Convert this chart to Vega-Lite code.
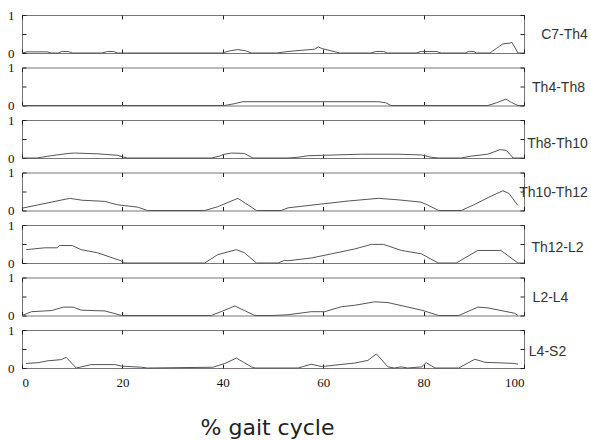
{
  "$schema": "https://vega.github.io/schema/vega-lite/v6.json",
  "background": "white",
  "padding": {"left": 7, "top": 8, "right": 0, "bottom": 0},
  "spacing": 14.5,
  "bounds": "flush",
  "datasets": {
    "d": [
      {"p":"C7-Th4","x":0,"y":0},{"p":"C7-Th4","x":1,"y":0.03},{"p":"C7-Th4","x":5,"y":0.03},{"p":"C7-Th4","x":5.8,"y":0},{"p":"C7-Th4","x":7.2,"y":0},{"p":"C7-Th4","x":8,"y":0.04},{"p":"C7-Th4","x":9.2,"y":0.04},{"p":"C7-Th4","x":10,"y":0},{"p":"C7-Th4","x":16,"y":0},{"p":"C7-Th4","x":17,"y":0.04},{"p":"C7-Th4","x":18.2,"y":0.04},{"p":"C7-Th4","x":19,"y":0},{"p":"C7-Th4","x":39.8,"y":0},{"p":"C7-Th4","x":41.5,"y":0.06},{"p":"C7-Th4","x":43,"y":0.09},{"p":"C7-Th4","x":44.5,"y":0.06},{"p":"C7-Th4","x":45.7,"y":0},{"p":"C7-Th4","x":50.7,"y":0},{"p":"C7-Th4","x":53,"y":0.04},{"p":"C7-Th4","x":55.6,"y":0.07},{"p":"C7-Th4","x":58.3,"y":0.1},{"p":"C7-Th4","x":59,"y":0.16},{"p":"C7-Th4","x":59.7,"y":0.12},{"p":"C7-Th4","x":63.3,"y":0},{"p":"C7-Th4","x":69.5,"y":0},{"p":"C7-Th4","x":70.5,"y":0.04},{"p":"C7-Th4","x":72,"y":0.04},{"p":"C7-Th4","x":72.8,"y":0},{"p":"C7-Th4","x":78.5,"y":0},{"p":"C7-Th4","x":79.5,"y":0.04},{"p":"C7-Th4","x":82.5,"y":0.04},{"p":"C7-Th4","x":83.5,"y":0},{"p":"C7-Th4","x":88.3,"y":0},{"p":"C7-Th4","x":89,"y":0.04},{"p":"C7-Th4","x":90,"y":0.04},{"p":"C7-Th4","x":90.5,"y":0},{"p":"C7-Th4","x":93.2,"y":0},{"p":"C7-Th4","x":94.5,"y":0.12},{"p":"C7-Th4","x":95.8,"y":0.24},{"p":"C7-Th4","x":97.2,"y":0.26},{"p":"C7-Th4","x":97.6,"y":0.28},{"p":"C7-Th4","x":98.8,"y":0},{"p":"C7-Th4","x":100,"y":0},

      {"p":"Th4-Th8","x":0,"y":0},{"p":"Th4-Th8","x":40.4,"y":0},{"p":"Th4-Th8","x":42.4,"y":0.05},{"p":"Th4-Th8","x":44,"y":0.1},{"p":"Th4-Th8","x":71,"y":0.1},{"p":"Th4-Th8","x":72.5,"y":0.07},{"p":"Th4-Th8","x":73.5,"y":0},{"p":"Th4-Th8","x":92.8,"y":0},{"p":"Th4-Th8","x":94.5,"y":0.07},{"p":"Th4-Th8","x":96.4,"y":0.17},{"p":"Th4-Th8","x":97.5,"y":0.08},{"p":"Th4-Th8","x":98.8,"y":0},{"p":"Th4-Th8","x":100,"y":0},

      {"p":"Th8-Th10","x":0,"y":0},{"p":"Th8-Th10","x":3,"y":0},{"p":"Th8-Th10","x":3.9,"y":0.02},{"p":"Th8-Th10","x":5.8,"y":0.06},{"p":"Th8-Th10","x":9.2,"y":0.12},{"p":"Th8-Th10","x":10.5,"y":0.13},{"p":"Th8-Th10","x":15,"y":0.11},{"p":"Th8-Th10","x":19.1,"y":0.07},{"p":"Th8-Th10","x":20,"y":0.03},{"p":"Th8-Th10","x":21,"y":0},{"p":"Th8-Th10","x":37.7,"y":0},{"p":"Th8-Th10","x":39.4,"y":0.05},{"p":"Th8-Th10","x":40,"y":0.09},{"p":"Th8-Th10","x":41.7,"y":0.13},{"p":"Th8-Th10","x":44.3,"y":0.12},{"p":"Th8-Th10","x":46,"y":0},{"p":"Th8-Th10","x":53,"y":0},{"p":"Th8-Th10","x":55,"y":0.02},{"p":"Th8-Th10","x":57,"y":0.06},{"p":"Th8-Th10","x":59.7,"y":0.07},{"p":"Th8-Th10","x":67.6,"y":0.1},{"p":"Th8-Th10","x":74.9,"y":0.1},{"p":"Th8-Th10","x":79.6,"y":0.08},{"p":"Th8-Th10","x":81.5,"y":0.02},{"p":"Th8-Th10","x":83,"y":0},{"p":"Th8-Th10","x":87.5,"y":0},{"p":"Th8-Th10","x":89.5,"y":0.05},{"p":"Th8-Th10","x":92.8,"y":0.1},{"p":"Th8-Th10","x":95.2,"y":0.22},{"p":"Th8-Th10","x":96.5,"y":0.2},{"p":"Th8-Th10","x":97.5,"y":0.05},{"p":"Th8-Th10","x":97.8,"y":0},{"p":"Th8-Th10","x":100,"y":0},

      {"p":"Th10-Th12","x":0,"y":0.06},{"p":"Th10-Th12","x":9.5,"y":0.32},{"p":"Th10-Th12","x":12,"y":0.27},{"p":"Th10-Th12","x":16.5,"y":0.24},{"p":"Th10-Th12","x":19,"y":0.15},{"p":"Th10-Th12","x":23,"y":0.09},{"p":"Th10-Th12","x":25,"y":0},{"p":"Th10-Th12","x":36.4,"y":0},{"p":"Th10-Th12","x":39,"y":0.1},{"p":"Th10-Th12","x":43,"y":0.32},{"p":"Th10-Th12","x":45,"y":0.15},{"p":"Th10-Th12","x":46.7,"y":0},{"p":"Th10-Th12","x":51.6,"y":0},{"p":"Th10-Th12","x":53,"y":0.07},{"p":"Th10-Th12","x":59.6,"y":0.17},{"p":"Th10-Th12","x":65,"y":0.25},{"p":"Th10-Th12","x":71,"y":0.32},{"p":"Th10-Th12","x":75,"y":0.28},{"p":"Th10-Th12","x":79.5,"y":0.22},{"p":"Th10-Th12","x":81.5,"y":0.1},{"p":"Th10-Th12","x":83,"y":0},{"p":"Th10-Th12","x":87.5,"y":0},{"p":"Th10-Th12","x":90,"y":0.15},{"p":"Th10-Th12","x":93,"y":0.35},{"p":"Th10-Th12","x":95.8,"y":0.52},{"p":"Th10-Th12","x":97,"y":0.45},{"p":"Th10-Th12","x":98.8,"y":0.13},

      {"p":"Th12-L2","x":0.8,"y":0.35},{"p":"Th12-L2","x":4.5,"y":0.4},{"p":"Th12-L2","x":7,"y":0.4},{"p":"Th12-L2","x":7.5,"y":0.46},{"p":"Th12-L2","x":10,"y":0.46},{"p":"Th12-L2","x":11.8,"y":0.35},{"p":"Th12-L2","x":15,"y":0.27},{"p":"Th12-L2","x":19.7,"y":0.06},{"p":"Th12-L2","x":20.5,"y":0},{"p":"Th12-L2","x":36.4,"y":0},{"p":"Th12-L2","x":39,"y":0.22},{"p":"Th12-L2","x":42.7,"y":0.35},{"p":"Th12-L2","x":44.3,"y":0.27},{"p":"Th12-L2","x":46.7,"y":0},{"p":"Th12-L2","x":51,"y":0},{"p":"Th12-L2","x":52.3,"y":0.07},{"p":"Th12-L2","x":53,"y":0.06},{"p":"Th12-L2","x":57.6,"y":0.13},{"p":"Th12-L2","x":61.6,"y":0.24},{"p":"Th12-L2","x":66.3,"y":0.37},{"p":"Th12-L2","x":69.6,"y":0.49},{"p":"Th12-L2","x":72,"y":0.49},{"p":"Th12-L2","x":75.6,"y":0.33},{"p":"Th12-L2","x":79.6,"y":0.24},{"p":"Th12-L2","x":82.9,"y":0},{"p":"Th12-L2","x":86.5,"y":0},{"p":"Th12-L2","x":90.8,"y":0.33},{"p":"Th12-L2","x":95.4,"y":0.33},{"p":"Th12-L2","x":98.8,"y":0},{"p":"Th12-L2","x":100,"y":0},

      {"p":"L2-L4","x":0,"y":0},{"p":"L2-L4","x":1.9,"y":0.1},{"p":"L2-L4","x":5.9,"y":0.13},{"p":"L2-L4","x":8.2,"y":0.22},{"p":"L2-L4","x":10.2,"y":0.22},{"p":"L2-L4","x":11.8,"y":0.14},{"p":"L2-L4","x":16.5,"y":0.12},{"p":"L2-L4","x":18.5,"y":0.05},{"p":"L2-L4","x":19.8,"y":0},{"p":"L2-L4","x":37.7,"y":0},{"p":"L2-L4","x":40,"y":0.12},{"p":"L2-L4","x":42.4,"y":0.25},{"p":"L2-L4","x":46.4,"y":0},{"p":"L2-L4","x":50,"y":0},{"p":"L2-L4","x":53,"y":0.02},{"p":"L2-L4","x":57.6,"y":0.1},{"p":"L2-L4","x":60.3,"y":0.1},{"p":"L2-L4","x":63.6,"y":0.23},{"p":"L2-L4","x":66.3,"y":0.27},{"p":"L2-L4","x":70.3,"y":0.36},{"p":"L2-L4","x":72.9,"y":0.34},{"p":"L2-L4","x":79.6,"y":0.14},{"p":"L2-L4","x":82.3,"y":0.03},{"p":"L2-L4","x":83,"y":0},{"p":"L2-L4","x":87,"y":0},{"p":"L2-L4","x":90.8,"y":0.22},{"p":"L2-L4","x":92.8,"y":0.2},{"p":"L2-L4","x":98.1,"y":0.06},{"p":"L2-L4","x":98.8,"y":0},

      {"p":"L4-S2","x":0.8,"y":0.12},{"p":"L4-S2","x":3.2,"y":0.14},{"p":"L4-S2","x":5.2,"y":0.19},{"p":"L4-S2","x":7.8,"y":0.22},{"p":"L4-S2","x":8.8,"y":0.28},{"p":"L4-S2","x":10.8,"y":0},{"p":"L4-S2","x":11.8,"y":0.03},{"p":"L4-S2","x":13.8,"y":0.09},{"p":"L4-S2","x":18.5,"y":0.09},{"p":"L4-S2","x":19.8,"y":0.05},{"p":"L4-S2","x":23.8,"y":0.02},{"p":"L4-S2","x":25,"y":0},{"p":"L4-S2","x":38,"y":0.02},{"p":"L4-S2","x":40.4,"y":0.12},{"p":"L4-S2","x":42.7,"y":0.26},{"p":"L4-S2","x":45.7,"y":0.03},{"p":"L4-S2","x":46.5,"y":0},{"p":"L4-S2","x":55,"y":0},{"p":"L4-S2","x":57.6,"y":0.1},{"p":"L4-S2","x":59.6,"y":0.04},{"p":"L4-S2","x":60.5,"y":0.05},{"p":"L4-S2","x":66.3,"y":0.13},{"p":"L4-S2","x":68.9,"y":0.2},{"p":"L4-S2","x":70.6,"y":0.37},{"p":"L4-S2","x":72.9,"y":0.03},{"p":"L4-S2","x":74.2,"y":0},{"p":"L4-S2","x":75.5,"y":0.03},{"p":"L4-S2","x":76.8,"y":0},{"p":"L4-S2","x":79.6,"y":0.03},{"p":"L4-S2","x":80.5,"y":0.14},{"p":"L4-S2","x":82.3,"y":0},{"p":"L4-S2","x":87,"y":0},{"p":"L4-S2","x":90.2,"y":0.23},{"p":"L4-S2","x":92.2,"y":0.15},{"p":"L4-S2","x":98.1,"y":0.12},{"p":"L4-S2","x":98.8,"y":0.1}
    ]
  },
  "vconcat": [
    {"width":502,"height":38,"data":{"name":"d"},"transform":[{"filter":"datum.p === 'C7-Th4'"}],
     "layer":[
       {"mark":{"type":"line","color":"#555","strokeWidth":1},
        "encoding":{"x":{"field":"x","type":"quantitative","scale":{"domain":[0,100],"nice":false},"axis":{"orient":"bottom","values":[0,20,40,60,80,100],"labels":false,"title":null}},
                    "y":{"field":"y","type":"quantitative","scale":{"domain":[0,1]},"axis":{"orient":"left","values":[0,0.5,1],"labelExpr":"datum.value == 0 ? '0' : datum.value == 1 ? '1' : ''","title":null}}}},
       {"mark":{"type":"line","opacity":0},
        "encoding":{"x":{"field":"x","type":"quantitative","scale":{"domain":[0,100],"nice":false},"axis":{"orient":"top","values":[0,20,40,60,80,100],"labels":false,"title":null}},
                    "y":{"field":"y","type":"quantitative","scale":{"domain":[0,1]},"axis":{"orient":"right","values":[0,0.5,1],"labels":false,"title":"C7-Th4","titleX":40,"titleY":19}}}}
     ],
     "resolve":{"axis":{"x":"independent","y":"independent"}}},
    {"width":502,"height":38,"data":{"name":"d"},"transform":[{"filter":"datum.p === 'Th4-Th8'"}],
     "layer":[
       {"mark":{"type":"line","color":"#555","strokeWidth":1},
        "encoding":{"x":{"field":"x","type":"quantitative","scale":{"domain":[0,100],"nice":false},"axis":{"orient":"bottom","values":[0,20,40,60,80,100],"labels":false,"title":null}},
                    "y":{"field":"y","type":"quantitative","scale":{"domain":[0,1]},"axis":{"orient":"left","values":[0,0.5,1],"labelExpr":"datum.value == 0 ? '0' : datum.value == 1 ? '1' : ''","title":null}}}},
       {"mark":{"type":"line","opacity":0},
        "encoding":{"x":{"field":"x","type":"quantitative","scale":{"domain":[0,100],"nice":false},"axis":{"orient":"top","values":[0,20,40,60,80,100],"labels":false,"title":null}},
                    "y":{"field":"y","type":"quantitative","scale":{"domain":[0,1]},"axis":{"orient":"right","values":[0,0.5,1],"labels":false,"title":"Th4-Th8","titleX":34,"titleY":20}}}}
     ],
     "resolve":{"axis":{"x":"independent","y":"independent"}}},
    {"width":502,"height":38,"data":{"name":"d"},"transform":[{"filter":"datum.p === 'Th8-Th10'"}],
     "layer":[
       {"mark":{"type":"line","color":"#555","strokeWidth":1},
        "encoding":{"x":{"field":"x","type":"quantitative","scale":{"domain":[0,100],"nice":false},"axis":{"orient":"bottom","values":[0,20,40,60,80,100],"labels":false,"title":null}},
                    "y":{"field":"y","type":"quantitative","scale":{"domain":[0,1]},"axis":{"orient":"left","values":[0,0.5,1],"labelExpr":"datum.value == 0 ? '0' : datum.value == 1 ? '1' : ''","title":null}}}},
       {"mark":{"type":"line","opacity":0},
        "encoding":{"x":{"field":"x","type":"quantitative","scale":{"domain":[0,100],"nice":false},"axis":{"orient":"top","values":[0,20,40,60,80,100],"labels":false,"title":null}},
                    "y":{"field":"y","type":"quantitative","scale":{"domain":[0,1]},"axis":{"orient":"right","values":[0,0.5,1],"labels":false,"title":"Th8-Th10","titleX":33,"titleY":23}}}}
     ],
     "resolve":{"axis":{"x":"independent","y":"independent"}}},
    {"width":502,"height":38,"data":{"name":"d"},"transform":[{"filter":"datum.p === 'Th10-Th12'"}],
     "layer":[
       {"mark":{"type":"line","color":"#555","strokeWidth":1},
        "encoding":{"x":{"field":"x","type":"quantitative","scale":{"domain":[0,100],"nice":false},"axis":{"orient":"bottom","values":[0,20,40,60,80,100],"labels":false,"title":null}},
                    "y":{"field":"y","type":"quantitative","scale":{"domain":[0,1]},"axis":{"orient":"left","values":[0,0.5,1],"labelExpr":"datum.value == 0 ? '0' : datum.value == 1 ? '1' : ''","title":null}}}},
       {"mark":{"type":"line","opacity":0},
        "encoding":{"x":{"field":"x","type":"quantitative","scale":{"domain":[0,100],"nice":false},"axis":{"orient":"top","values":[0,20,40,60,80,100],"labels":false,"title":null}},
                    "y":{"field":"y","type":"quantitative","scale":{"domain":[0,1]},"axis":{"orient":"right","values":[0,0.5,1],"labels":false,"title":"Th10-Th12","titleX":29,"titleY":20}}}}
     ],
     "resolve":{"axis":{"x":"independent","y":"independent"}}},
    {"width":502,"height":38,"data":{"name":"d"},"transform":[{"filter":"datum.p === 'Th12-L2'"}],
     "layer":[
       {"mark":{"type":"line","color":"#555","strokeWidth":1},
        "encoding":{"x":{"field":"x","type":"quantitative","scale":{"domain":[0,100],"nice":false},"axis":{"orient":"bottom","values":[0,20,40,60,80,100],"labels":false,"title":null}},
                    "y":{"field":"y","type":"quantitative","scale":{"domain":[0,1]},"axis":{"orient":"left","values":[0,0.5,1],"labelExpr":"datum.value == 0 ? '0' : datum.value == 1 ? '1' : ''","title":null}}}},
       {"mark":{"type":"line","opacity":0},
        "encoding":{"x":{"field":"x","type":"quantitative","scale":{"domain":[0,100],"nice":false},"axis":{"orient":"top","values":[0,20,40,60,80,100],"labels":false,"title":null}},
                    "y":{"field":"y","type":"quantitative","scale":{"domain":[0,1]},"axis":{"orient":"right","values":[0,0.5,1],"labels":false,"title":"Th12-L2","titleX":33,"titleY":22}}}}
     ],
     "resolve":{"axis":{"x":"independent","y":"independent"}}},
    {"width":502,"height":38,"data":{"name":"d"},"transform":[{"filter":"datum.p === 'L2-L4'"}],
     "layer":[
       {"mark":{"type":"line","color":"#555","strokeWidth":1},
        "encoding":{"x":{"field":"x","type":"quantitative","scale":{"domain":[0,100],"nice":false},"axis":{"orient":"bottom","values":[0,20,40,60,80,100],"labels":false,"title":null}},
                    "y":{"field":"y","type":"quantitative","scale":{"domain":[0,1]},"axis":{"orient":"left","values":[0,0.5,1],"labelExpr":"datum.value == 0 ? '0' : datum.value == 1 ? '1' : ''","title":null}}}},
       {"mark":{"type":"line","opacity":0},
        "encoding":{"x":{"field":"x","type":"quantitative","scale":{"domain":[0,100],"nice":false},"axis":{"orient":"top","values":[0,20,40,60,80,100],"labels":false,"title":null}},
                    "y":{"field":"y","type":"quantitative","scale":{"domain":[0,1]},"axis":{"orient":"right","values":[0,0.5,1],"labels":false,"title":"L2-L4","titleX":26,"titleY":20}}}}
     ],
     "resolve":{"axis":{"x":"independent","y":"independent"}}},
    {"width":502,"height":38,"data":{"name":"d"},"transform":[{"filter":"datum.p === 'L4-S2'"}],
     "layer":[
       {"mark":{"type":"line","color":"#555","strokeWidth":1},
        "encoding":{"x":{"field":"x","type":"quantitative","scale":{"domain":[0,100],"nice":false},"axis":{"orient":"bottom","values":[0,20,40,60,80,100],"labels":true,"labelPadding":12,"title":"% gait cycle","titleFont":"DejaVu Sans","titleFontSize":22,"titleFontWeight":"normal","titleColor":"#222","titleX":245,"titleY":59,"titleBaseline":"middle"}},
                    "y":{"field":"y","type":"quantitative","scale":{"domain":[0,1]},"axis":{"orient":"left","values":[0,0.5,1],"labelExpr":"datum.value == 0 ? '0' : datum.value == 1 ? '1' : ''","title":null}}}},
       {"mark":{"type":"line","opacity":0},
        "encoding":{"x":{"field":"x","type":"quantitative","scale":{"domain":[0,100],"nice":false},"axis":{"orient":"top","values":[0,20,40,60,80,100],"labels":false,"title":null}},
                    "y":{"field":"y","type":"quantitative","scale":{"domain":[0,1]},"axis":{"orient":"right","values":[0,0.5,1],"labels":false,"title":"L4-S2","titleX":23,"titleY":21}}}}
     ],
     "resolve":{"axis":{"x":"independent","y":"independent"}}}
  ],
  "config": {
    "view": {"stroke": "#777", "strokeWidth": 1},
    "axis": {"domain": false, "grid": false, "tickSize": -4, "tickColor": "#222", "labelFont": "Liberation Serif", "labelFontSize": 13, "labelColor": "#111", "labelPadding": 8},
    "axisLeft": {"labelPadding": 12},
    "axisRight": {"titleAngle": 0, "titleAlign": "center", "titleBaseline": "middle", "titleFont": "Liberation Sans", "titleFontSize": 14, "titleFontWeight": "normal", "titleColor": "#333"}
  }
}
